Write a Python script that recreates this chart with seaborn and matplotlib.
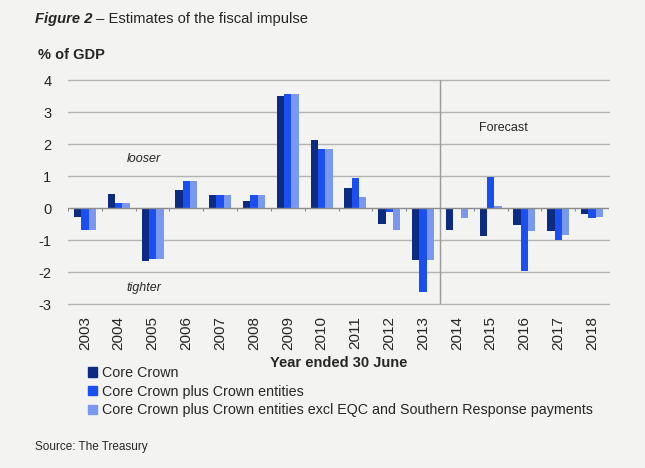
import numpy as np
import pandas as pd
import matplotlib
matplotlib.use("Agg")
import matplotlib.pyplot as plt
import matplotlib.patches as mpatches
import seaborn as sns

# 数据
years = [str(y) for y in range(2003, 2019)]
core_crown = [-0.29, 0.45, -1.67, 0.56, 0.40, 0.22, 3.49, 2.13, 0.63,
              -0.51, -1.63, -0.69, -0.89, -0.53, -0.72, -0.19]
core_plus_ce = [-0.68, 0.17, -1.60, 0.85, 0.40, 0.40, 3.56, 1.83, 0.93,
                -0.11, -2.61, -0.04, 0.97, -1.98, -1.00, -0.30]
core_plus_ce_excl = [-0.68, 0.17, -1.60, 0.85, 0.40, 0.40, 3.56, 1.83, 0.35,
                     -0.70, -1.64, -0.32, 0.05, -0.73, -0.84, -0.28]
series_names = ["Core Crown",
                "Core Crown plus Crown entities",
                "Core Crown plus Crown entities excl EQC and Southern Response payments"]
colors = ["#0d2b80", "#1b4ff0", "#7a98f0"]
yticks = [-3, -2, -1, 0, 1, 2, 3, 4]

df = pd.DataFrame({
    "year": years * 3,
    "value": core_crown + core_plus_ce + core_plus_ce_excl,
    "series": [series_names[0]] * 16 + [series_names[1]] * 16 + [series_names[2]] * 16,
})

# -------------------------- 基础设置 --------------------------
sns.set_style("white")
plt.rcParams["font.family"] = ["Liberation Sans", "DejaVu Sans"]
bg = "#f3f3f1"

fig = plt.figure(figsize=(6.45, 4.68), dpi=100, facecolor=bg)
ax = fig.add_axes([68 / 645, 1 - 304 / 468, 541 / 645, 224 / 468])
ax.set_facecolor(bg)

sns.barplot(data=df, x="year", y="value", hue="series", palette=colors,
            width=0.65, gap=0, saturation=1, linewidth=0, ax=ax, legend=False, zorder=3)

ax.set_ylim(-3, 4)
ax.set_xlim(-0.5, len(years) - 0.5)
ax.set_yticks(yticks)
ax.set_yticklabels([str(t) for t in yticks], fontsize=10.5)
ax.tick_params(axis="y", length=0, pad=12)
ax.tick_params(axis="x", length=0, pad=9, labelsize=11, labelrotation=90)
for s in ax.spines.values():
    s.set_visible(False)

for t in yticks:
    if t != 0:
        ax.axhline(t, color="#b4b4b4", lw=1.0, zorder=1, clip_on=False)
ax.axhline(0, color="#8c8c8c", lw=1.0, zorder=4)
ax.vlines(np.arange(-0.5, len(years)), -0.09, 0, color="#8c8c8c", lw=0.8, zorder=4)
ax.axvline(10.5, color="#9a9a9a", lw=1.0, zorder=2)

ax.set_xlabel("Year ended 30 June", fontsize=10.5, fontweight="bold", labelpad=4)
ax.set_ylabel("")

ax.text(1.75, 1.54, "looser", fontsize=9, style="italic", ha="center", va="center")
ax.text(1.75, -2.49, "tighter", fontsize=9, style="italic", ha="center", va="center")
ax.text(12.37, 2.5, "Forecast", fontsize=9, ha="center", va="center")

# 标题
t1 = fig.text(35 / 645, 1 - 19 / 468, "Figure 2", fontsize=10.6, fontweight="bold",
              style="italic", va="center", ha="left")
fig.canvas.draw()
bb = t1.get_window_extent()
fig.text(bb.x1 / fig.bbox.width, 1 - 19 / 468, " \u2013 Estimates of the fiscal impulse",
         fontsize=10.6, va="center", ha="left")
fig.text(38 / 645, 1 - 55 / 468, "% of GDP", fontsize=10.5, fontweight="bold",
         va="center", ha="left")

# 图例
handles = [mpatches.Patch(color=c, label=n) for c, n in zip(colors, series_names)]
fig.legend(handles=handles, loc="upper left", bbox_to_anchor=(88 / 645, 1 - 366 / 468),
           frameon=False, fontsize=10.3, handlelength=0.65, handleheight=0.65,
           handletextpad=0.3, labelspacing=0.33, borderaxespad=0, borderpad=0)

fig.text(35 / 645, 1 - 447 / 468, "Source: The Treasury", fontsize=8.5,
         va="center", ha="left")

fig.savefig("out.png", dpi=100, facecolor=bg)
